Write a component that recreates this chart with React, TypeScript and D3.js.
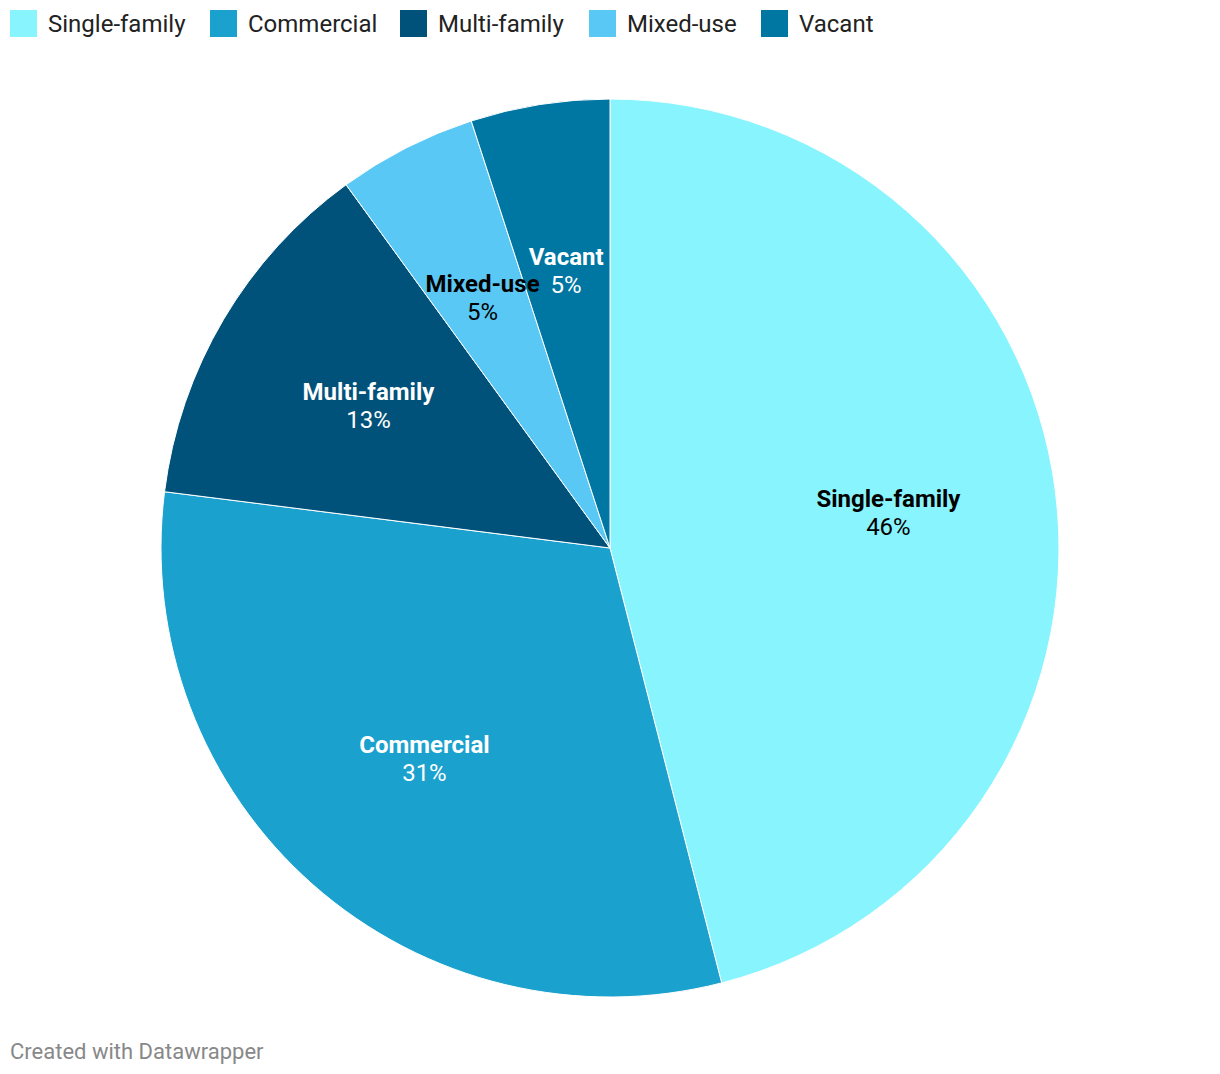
import React from "react";
import * as d3 from "d3";

const categories = ["Single-family", "Commercial", "Multi-family", "Mixed-use", "Vacant"];
const values = [46, 31, 13, 5, 5];
const colors = ["#88f4fd", "#1aa1cd", "#01527a", "#5ac8f5", "#0077a3"];
const labelColors = ["#000000", "#ffffff", "#ffffff", "#000000", "#ffffff"];
const legendX = [10, 210, 400, 589, 761];

const W = 1220;
const H = 1074;

export default function App() {
  const cx = 610;
  const cy = 548;
  const r = 449;
  const data = categories.map((c, i) => ({ name: c, value: values[i], i }));
  const pie = d3.pie<any>().value((d) => d.value).sort(null);
  const arcs = pie(data);
  const arc = d3.arc<any>().innerRadius(0).outerRadius(r);
  const labelArc = d3.arc<any>().innerRadius(r * 0.625).outerRadius(r * 0.625);
  const font = "Roboto, 'Noto Sans', sans-serif";
  return (
    <svg
      width={W}
      height={H}
      style={{ position: "absolute", left: 0, top: 0, display: "block" }}
      fontFamily={font}
    >
      <rect width={W} height={H} fill="#ffffff" />
      {categories.map((c, i) => (
        <g key={c}>
          <rect x={legendX[i]} y={10} width={27} height={27} fill={colors[i]} />
          <text x={legendX[i] + 38} y={24} dy="0.35em" fontSize={24} fill="#222222">
            {c}
          </text>
        </g>
      ))}
      <g transform={`translate(${cx},${cy})`}>
        {arcs.map((a, i) => (
          <path key={i} d={arc(a) as string} fill={colors[i]} stroke="#ffffff" strokeWidth={1} />
        ))}
        {arcs.map((a, i) => {
          const [x, y] = labelArc.centroid(a);
          return (
            <g key={"l" + i} transform={`translate(${x},${y})`} fill={labelColors[i]} textAnchor="middle">
              <text y={-14} dy="0.35em" fontSize={24} fontWeight="bold">
                {categories[i]}
              </text>
              <text y={14} dy="0.35em" fontSize={24}>
                {values[i]}%
              </text>
            </g>
          );
        })}
      </g>
      <text x={10} y={1051} dy="0.35em" fontSize={22} fill="#888888">
        Created with Datawrapper
      </text>
    </svg>
  );
}
